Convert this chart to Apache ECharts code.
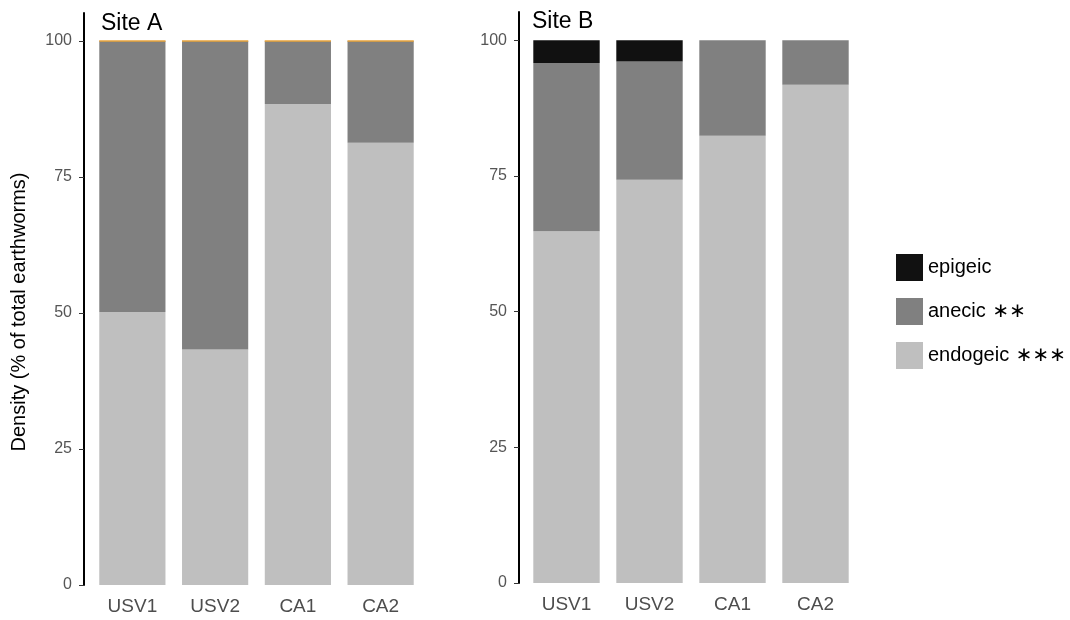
<!DOCTYPE html>
<html>
<head>
<meta charset="utf-8">
<script src="https://cdn.jsdelivr.net/npm/echarts@6/dist/echarts.min.js"></script>
<style>html,body{margin:0;padding:0;background:#fff}#c{width:1070px;height:620px}</style>
</head>
<body>
<div id="c"></div>
<script>
var categories = ['USV1', 'USV2', 'CA1', 'CA2'];
var yTicks = [0, 25, 50, 75, 100];
var siteA_endogeic = [50.2, 43.3, 88.4, 81.3];
var siteA_anecic = [49.8, 56.7, 11.6, 18.7];
var siteA_epigeic = [0, 0, 0, 0];
var siteB_endogeic = [64.8, 74.3, 82.4, 91.8];
var siteB_anecic = [31.0, 21.8, 17.6, 8.2];
var siteB_epigeic = [4.2, 3.9, 0, 0];

var FONT = 'Liberation Sans, Arial, sans-serif';
var colors = {epigeic: '#111111', anecic: '#808080', endogeic: '#bfbfbf'};

function yAx(gi, offset, max) {
  return {
    type: 'value', gridIndex: gi, min: 0, max: max, offset: offset,
    splitLine: {show: false},
    axisLine: {show: true, lineStyle: {color: '#000', width: 2}},
    axisTick: {show: true, length: 5, lineStyle: {color: '#333', width: 1}, customValues: yTicks},
    axisLabel: {color: '#555', fontSize: 16, fontFamily: FONT, margin: 12, customValues: yTicks}
  };
}
function xAx(gi) {
  return {
    type: 'category', gridIndex: gi, data: categories,
    axisLine: {show: false}, axisTick: {show: false},
    axisLabel: {color: '#4d4d4d', fontSize: 19, fontFamily: FONT, margin: 12}
  };
}
function ser(name, gi, data, stack, extra) {
  var s = {
    name: name, type: 'bar', xAxisIndex: gi, yAxisIndex: gi, stack: stack,
    data: data, barCategoryGap: '20%',
    itemStyle: {color: colors[name]}
  };
  if (extra) for (var k in extra) s[k] = extra[k];
  return s;
}

var chart = echarts.init(document.getElementById('c'), null, {renderer: 'canvas'});
chart.setOption({
  animation: false,
  backgroundColor: '#fff',
  title: [
    {text: 'Site A', left: 96, top: 7, textStyle: {fontSize: 23, fontWeight: 'normal', color: '#000', fontFamily: FONT}},
    {text: 'Site B', left: 527, top: 5, textStyle: {fontSize: 23, fontWeight: 'normal', color: '#000', fontFamily: FONT}}
  ],
  grid: [
    {left: 91, width: 331, top: 13, bottom: 35},
    {left: 525, width: 332, top: 12, bottom: 37}
  ],
  xAxis: [xAx(0), xAx(1)],
  yAxis: [yAx(0, 7, 105.15), yAx(1, 6, 105.2)],
  legend: {
    orient: 'vertical', left: 891, top: 249, itemWidth: 27, itemHeight: 27, itemGap: 17,
    icon: 'rect', data: ['epigeic', 'anecic', 'endogeic'],
    itemStyle: {borderWidth: 0},
    formatter: function (n) {
      if (n === 'anecic') return '{t|anecic}  {s|∗∗}';
      if (n === 'endogeic') return '{t|endogeic}  {s|∗∗∗}';
      return '{t|' + n + '}';
    },
    textStyle: {
      rich: {
        t: {fontSize: 20, color: '#000', fontFamily: FONT},
        s: {fontSize: 20, color: '#000', fontFamily: 'DejaVu Sans'}
      }
    }
  },
  graphic: [{
    type: 'text', x: 19, y: 312, rotation: Math.PI / 2,
    style: {text: 'Density (% of total earthworms)', fontSize: 20, fontFamily: FONT, fill: '#000', align: 'center', verticalAlign: 'middle'}
  }],
  series: [
    ser('endogeic', 0, siteA_endogeic, 'a'),
    ser('anecic', 0, siteA_anecic, 'a'),
    ser('epigeic', 0, siteA_epigeic, 'a', {itemStyle: {color: colors.epigeic, borderColor: '#e8a33a', borderWidth: 1}}),
    ser('endogeic', 1, siteB_endogeic, 'b'),
    ser('anecic', 1, siteB_anecic, 'b'),
    ser('epigeic', 1, siteB_epigeic, 'b')
  ]
});
</script>
</body>
</html>
